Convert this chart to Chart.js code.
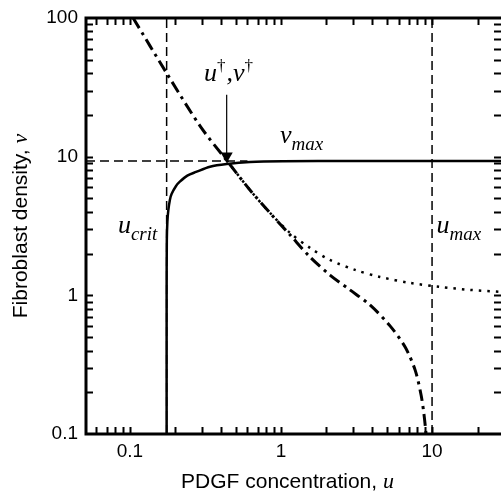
<!DOCTYPE html>
<html>
<head>
<meta charset="utf-8">
<title>Fibroblast density vs PDGF concentration</title>
<script src="https://cdn.jsdelivr.net/npm/chart.js@4.4.0/dist/chart.umd.min.js"></script>
<style>
  html, body { margin: 0; padding: 0; background: #fff; overflow: hidden; }
  canvas { display: block; }
</style>
</head>
<body>
<canvas id="chart" width="501" height="493"></canvas>
<script>
// log axis ranges
var uRange = [0.0512, 28.6];
var vRange = [0.1, 100];
var uTickLabels = [0.1, 1, 10];
var vTickLabels = [0.1, 1, 10, 100];

// critical values
var uCrit = 0.175;
var uMax = 10;
var vMax = 9.3;

// steady state fibroblast density (solid)
var solidU = [0.175, 0.175, 0.1755, 0.177, 0.1795, 0.184, 0.189, 0.202, 0.214, 0.24, 0.274, 0.339, 0.437, 0.624, 1.03, 3, 28.6];
var solidV = [0.1, 1, 2.5, 3.4, 4.1, 4.9, 5.4, 6.15, 6.6, 7.3, 7.76, 8.47, 8.86, 9.16, 9.27, 9.3, 9.3];

// dash-dot curve
var dashDotU = [0.105, 0.175, 0.294, 0.437, 0.623, 0.846, 1.147, 1.556, 2.11, 2.86, 3.88, 5.27, 6.62, 7.72, 8.46, 8.85, 9.13];
var dashDotV = [100, 40, 16.4, 9.4, 5.75, 3.93, 2.73, 1.89, 1.40, 1.094, 0.853, 0.602, 0.425, 0.29, 0.191, 0.1374, 0.1];

// dotted curve
var dottedU = [0.437, 0.623, 0.846, 1.147, 1.556, 2.11, 3.09, 4.52, 7.15, 11.3, 17.9, 28.6];
var dottedV = [9.4, 5.75, 3.93, 2.82, 2.20, 1.80, 1.525, 1.357, 1.229, 1.15, 1.094, 1.058];

// arrow pointing at (u†, v†)
var arrowU = [0.437, 0.437];
var arrowV = [28, 10.1];

function pts(us, vs) {
  return us.map(function (u, i) { return { x: u, y: vs[i] }; });
}

// text labels, anchored in data units
var mathLabels = [
  { u: 0.309, v: 35.2, parts: [['u', 'main'], ['\u2020', 'sup'], [',', 'main'], ['v', 'main'], ['\u2020', 'sup']] },
  { u: 0.985, v: 12.6, parts: [['v', 'main'], ['max', 'sub']] },
  { u: 0.0833, v: 2.82, parts: [['u', 'main'], ['crit', 'sub']] },
  { u: 10.7, v: 2.82, parts: [['u', 'main'], ['max', 'sub']] }
];

var mathFonts = {
  main: { font: 'italic 26px "Liberation Serif"', dy: 0 },
  sub: { font: 'italic 19px "Liberation Serif"', dy: 7 },
  sup: { font: '17px "Liberation Serif"', dy: -10 }
};

var frameAndText = {
  id: 'frameAndText',
  afterDraw: function (chart) {
    var ctx = chart.ctx;
    var a = chart.chartArea;
    var xs = chart.scales.x;
    var ys = chart.scales.y;
    ctx.save();
    ctx.strokeStyle = '#000';
    ctx.fillStyle = '#000';

    // inward ticks on all four sides
    ctx.lineWidth = 2;
    ctx.beginPath();
    for (var e = -2; e <= 2; e++) {
      for (var k = 1; k < 10; k++) {
        var val = k * Math.pow(10, e);
        if (val > uRange[0] && val < uRange[1]) {
          var px = Math.round(xs.getPixelForValue(val)) + 0.5;
          ctx.moveTo(px, a.bottom); ctx.lineTo(px, a.bottom - 7);
          ctx.moveTo(px, a.top); ctx.lineTo(px, a.top + 7);
        }
        if (val > vRange[0] && val < vRange[1]) {
          var py = Math.round(ys.getPixelForValue(val)) + 0.5;
          ctx.moveTo(a.left, py); ctx.lineTo(a.left + 7, py);
          ctx.moveTo(a.right, py); ctx.lineTo(a.right - 7, py);
        }
      }
    }
    ctx.stroke();

    // frame (right edge sits at the picture border)
    ctx.lineWidth = 3;
    ctx.beginPath();
    ctx.moveTo(a.right, a.top); ctx.lineTo(a.left, a.top);
    ctx.lineTo(a.left, a.bottom); ctx.lineTo(a.right, a.bottom);
    ctx.stroke();

    // math labels
    mathLabels.forEach(function (lab) {
      var x = xs.getPixelForValue(lab.u);
      var y = ys.getPixelForValue(lab.v);
      ctx.textBaseline = 'alphabetic';
      ctx.textAlign = 'left';
      lab.parts.forEach(function (p) {
        var f = mathFonts[p[1]];
        ctx.font = f.font;
        ctx.fillText(p[0], x, y + f.dy);
        x += ctx.measureText(p[0]).width + (p[1] === 'sup' ? 1 : 0);
      });
    });

    // x title
    var xt = 'PDGF concentration, ';
    ctx.font = '21px "Liberation Sans"';
    var w1 = ctx.measureText(xt).width;
    ctx.font = 'italic 22px "Liberation Serif"';
    var w2 = ctx.measureText('u').width;
    var x0 = (a.left + a.right) / 2 - 6 - (w1 + w2) / 2;
    ctx.font = '21px "Liberation Sans"';
    ctx.fillText(xt, x0, 488);
    ctx.font = 'italic 22px "Liberation Serif"';
    ctx.fillText('u', x0 + w1, 488);

    // y title
    var yt = 'Fibroblast density, ';
    ctx.translate(27, (a.top + a.bottom) / 2);
    ctx.rotate(-Math.PI / 2);
    ctx.font = '21px "Liberation Sans"';
    var w3 = ctx.measureText(yt).width;
    ctx.font = 'italic 22px "Liberation Serif"';
    var w4 = ctx.measureText('v').width;
    var y0 = -(w3 + w4) / 2;
    ctx.font = '21px "Liberation Sans"';
    ctx.fillText(yt, y0, 0);
    ctx.font = 'italic 22px "Liberation Serif"';
    ctx.fillText('v', y0 + w3, 0);
    ctx.restore();
  }
};

var lineBase = { showLine: true, pointRadius: 0, fill: false, borderColor: '#000', backgroundColor: '#000' };

new Chart(document.getElementById('chart').getContext('2d'), {
  type: 'scatter',
  data: {
    datasets: [
      Object.assign({}, lineBase, { data: pts(solidU, solidV), borderWidth: 2.5, tension: 0.3 }),
      Object.assign({}, lineBase, { data: pts(dashDotU, dashDotV), borderWidth: 3, borderDash: [12, 5, 3, 5], tension: 0.3 }),
      Object.assign({}, lineBase, { data: pts(dottedU, dottedV), borderWidth: 2.5, borderDash: [2.5, 6], tension: 0.3 }),
      Object.assign({}, lineBase, {
        data: pts(arrowU, arrowV), borderWidth: 1.2,
        pointRadius: [0, 7], pointStyle: 'triangle', rotation: 180, pointBorderWidth: 0
      }),
      Object.assign({}, lineBase, { data: pts([uCrit, uCrit], vRange), borderWidth: 1.5, borderDash: [9, 5] }),
      Object.assign({}, lineBase, { data: pts([uMax, uMax], vRange), borderWidth: 1.5, borderDash: [9, 5] }),
      Object.assign({}, lineBase, { data: pts([uRange[0], 0.6], [vMax, vMax]), borderWidth: 1.5, borderDash: [9, 5] })
    ]
  },
  options: {
    responsive: false,
    animation: false,
    events: [],
    // no automatic room for point overflow: the plot runs to the right edge
    layout: { autoPadding: false, padding: { top: 18, right: 0, bottom: 0, left: 0 } },
    plugins: { legend: { display: false }, tooltip: { enabled: false } },
    scales: {
      x: {
        type: 'logarithmic',
        min: uRange[0], max: uRange[1],
        bounds: 'data',
        grid: { display: false, drawTicks: false, tickLength: 0 },
        border: { display: false },
        afterBuildTicks: function (s) { s.ticks = uTickLabels.map(function (v) { return { value: v }; }); },
        afterFit: function (s) { s.height = 59; s.paddingLeft = 0; s.paddingRight = 0; },
        ticks: {
          padding: 6, color: '#000', maxRotation: 0, autoSkip: false,
          font: { family: '"Liberation Sans", Arial', size: 19 },
          callback: function (v) { return String(v); }
        }
      },
      y: {
        type: 'logarithmic',
        min: vRange[0], max: vRange[1],
        bounds: 'data',
        grid: { display: false, drawTicks: false, tickLength: 0 },
        border: { display: false },
        afterBuildTicks: function (s) { s.ticks = vTickLabels.map(function (v) { return { value: v }; }); },
        afterFit: function (s) { s.width = 86; s.paddingTop = 0; s.paddingBottom = 0; },
        ticks: {
          padding: 8, color: '#000', autoSkip: false,
          font: { family: '"Liberation Sans", Arial', size: 19 },
          callback: function (v) { return String(v); }
        }
      }
    }
  },
  plugins: [frameAndText]
});
</script>
</body>
</html>
